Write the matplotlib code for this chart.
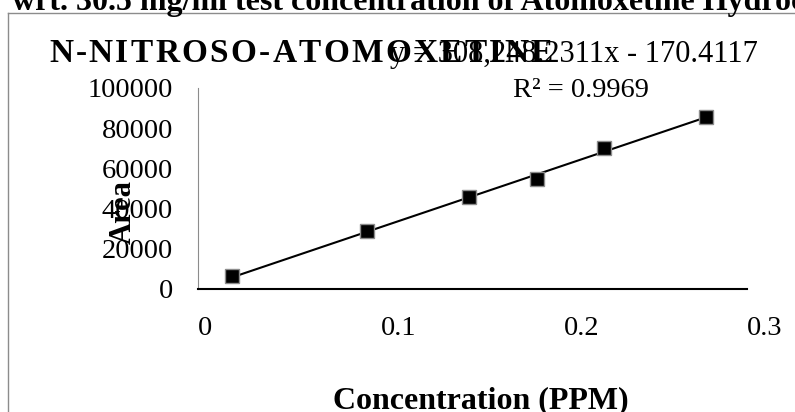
#!/usr/bin/env python3
"""
Calibration plot for N-nitroso-atomoxetine (area vs concentration).

Writes:
    out.png
"""

import matplotlib

matplotlib.use("Agg")
import matplotlib.pyplot as plt
from matplotlib.lines import Line2D


# concentration levels (PPM) and peak areas
CONC_PPM = [0.0185, 0.0925, 0.148, 0.185, 0.222, 0.2775]
AREA = [6200, 28700, 45600, 54400, 70100, 85500]

# linear trendline as reported on the chart
SLOPE = 308248.2311
INTERCEPT = -170.4117
R_SQUARED = 0.9969

X_TICKS = [0, 0.1, 0.2, 0.3]
X_TICK_LABELS = ["0", "0.1", "0.2", "0.3"]
Y_TICKS = [0, 20000, 40000, 60000, 80000, 100000]
Y_TICK_LABELS = ["0", "20000", "40000", "60000", "80000", "100000"]

HEADER = "wrt. 30.5 mg/ml test concentration of Atomoxetine Hydrochloride"
TITLE = "N-NITROSO-ATOMOXETINE"
X_LABEL = "Concentration (PPM)"
Y_LABEL = "Area"

FONT = "Liberation Serif"
W, H = 795, 412


def px(x, y):
    # pixel coords (top-left origin) -> figure fraction
    return x / W, 1 - y / H


def draw_tracked(fig, x_px, y_px, text, tracking_px, **kw):
    # matplotlib has no letter-spacing, so lay the characters out one by one
    renderer = fig.canvas.get_renderer()
    x = x_px
    for ch in text:
        fx, fy = px(x, y_px)
        t = fig.text(fx, fy, ch, ha="left", va="baseline", **kw)
        x += t.get_window_extent(renderer).width + tracking_px


def main() -> None:
    plt.rcParams["font.family"] = [FONT, "DejaVu Sans"]

    fig = plt.figure(figsize=(W / 100, H / 100), dpi=100)
    fig.patch.set_facecolor("white")

    left, top = px(198, 88)
    right, bottom = px(747, 288.5)
    ax = fig.add_axes([left, bottom, right - left, top - bottom])

    # trendline spans the data range, like Excel
    x0, x1 = min(CONC_PPM), max(CONC_PPM)
    ax.plot([x0, x1], [SLOPE * x0 + INTERCEPT, SLOPE * x1 + INTERCEPT],
            color="black", lw=1.5, zorder=2)
    ax.plot(CONC_PPM, AREA, linestyle="none", marker="s", ms=10.5,
            mfc="black", mec="#8c8c8c", mew=1.0, zorder=3, clip_on=False)

    ax.set_xlim(0, 0.3)
    ax.set_ylim(0, 100000)

    ax.set_xticks(X_TICKS)
    ax.set_xticklabels(X_TICK_LABELS, ha="left", fontsize=20.5)
    ax.set_yticks(Y_TICKS)
    ax.set_yticklabels(Y_TICK_LABELS, fontsize=20.5)
    ax.tick_params(axis="x", length=0, pad=20)
    ax.tick_params(axis="y", length=0, pad=18)

    for side in ["top", "right"]:
        ax.spines[side].set_visible(False)
    ax.spines["bottom"].set_color("black")
    ax.spines["bottom"].set_linewidth(1.5)
    ax.spines["left"].set_color("#8c8c8c")
    ax.spines["left"].set_linewidth(0.8)

    # outer chart frame, cut off at right and bottom
    fx, fy = px(8, 13)
    fig.add_artist(Line2D([fx, fx], [fy, 0], transform=fig.transFigure,
                          color="#8c8c8c", lw=1.0))
    fig.add_artist(Line2D([fx, 1], [fy, fy], transform=fig.transFigure,
                          color="#8c8c8c", lw=1.0))

    # header line cut off by the top edge of the image
    hx, hy = px(12, 10)
    fig.text(hx, hy, HEADER, fontsize=23, fontweight="bold",
             ha="left", va="baseline")

    draw_tracked(fig, 49, 62, TITLE, 2.3, fontsize=24, fontweight="bold")

    sign = "-" if INTERCEPT < 0 else "+"
    eq = f"y = {SLOPE:,.4f}x {sign} {abs(INTERCEPT):.4f}"
    ex, ey = px(574, 62)
    fig.text(ex, ey, eq, fontsize=22, ha="center", va="baseline")
    rx, ry = px(581, 97)
    fig.text(rx, ry, f"R\u00b2 = {R_SQUARED:.4f}", fontsize=20.5,
             ha="center", va="baseline")

    lx, ly = px(481, 408)
    fig.text(lx, ly, X_LABEL, fontsize=23, fontweight="bold",
             ha="center", va="baseline")
    yx, yy = px(123, 212)
    fig.text(yx, yy, Y_LABEL, fontsize=22, fontweight="bold",
             rotation=90, ha="center", va="center")

    fig.savefig("out.png", dpi=100)
    plt.close(fig)


if __name__ == "__main__":
    main()
